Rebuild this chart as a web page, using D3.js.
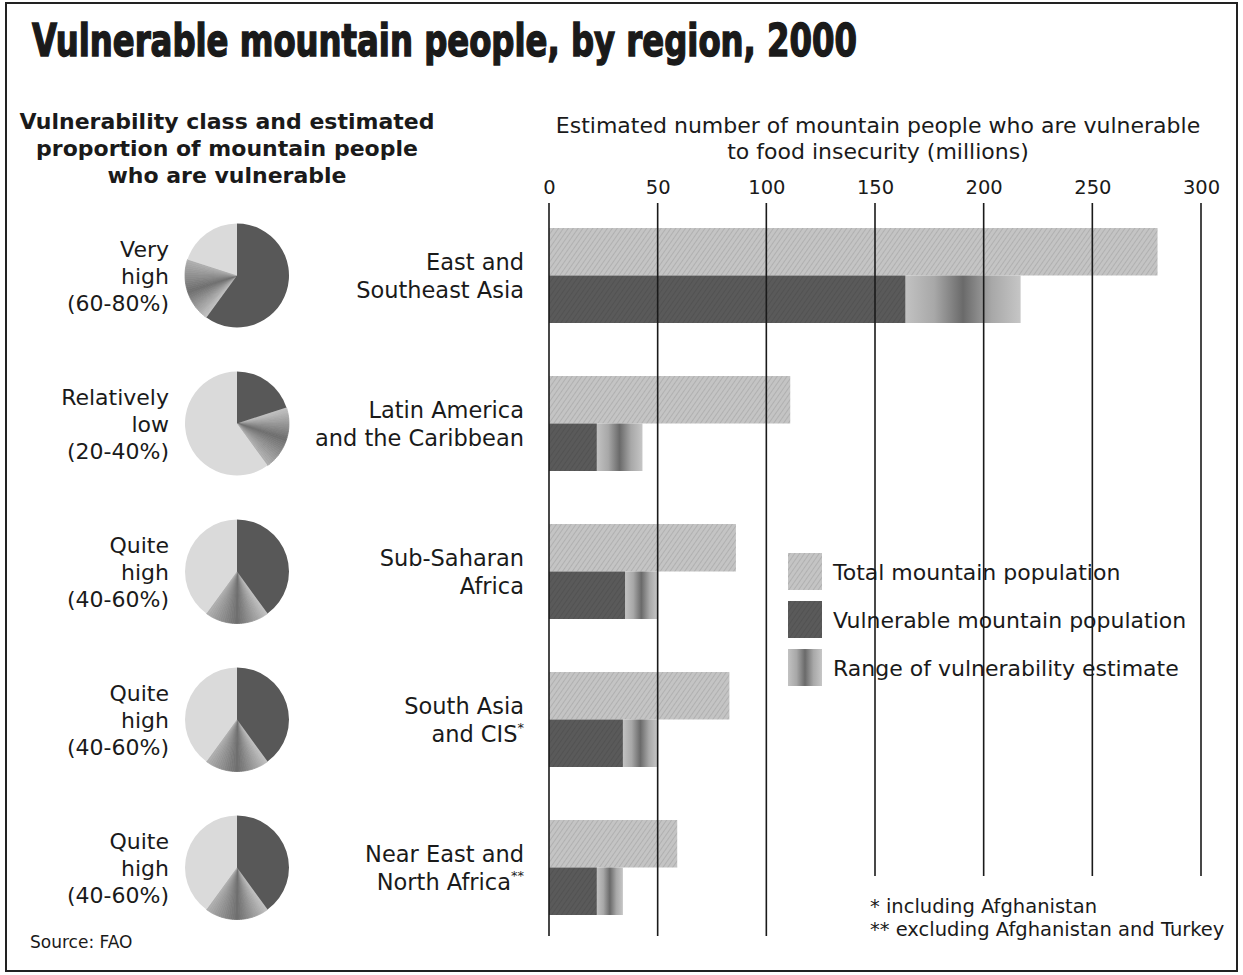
<!DOCTYPE html>
<html><head><meta charset="utf-8">
<script src="https://cdn.jsdelivr.net/npm/d3@7/dist/d3.min.js"></script>
<style>body{margin:0;background:#fff}svg{display:block}</style>
</head><body>
<svg id="c" width="1243" height="975"></svg>
<script>
// ---- data ----
const regions = ["East and Southeast Asia","Latin America and the Caribbean","Sub-Saharan Africa","South Asia and CIS*","Near East and North Africa**"];
const regionLines = [["East and","Southeast Asia"],["Latin America","and the Caribbean"],["Sub-Saharan","Africa"],["South Asia","and CIS*"],["Near East and","North Africa**"]];
const totalPop = [280, 111, 86, 83, 59];
const vulnLow = [164, 22, 35, 34, 22];
const vulnHigh = [217, 43, 50, 50, 34];
const classLines = [["Very","high","(60-80%)"],["Relatively","low","(20-40%)"],["Quite","high","(40-60%)"],["Quite","high","(40-60%)"],["Quite","high","(40-60%)"]];
const pieLow = [60, 20, 40, 40, 40];
const pieHigh = [80, 40, 60, 60, 60];
const ticks = [0, 50, 100, 150, 200, 250, 300];
const legendLabels = ["Total mountain population","Vulnerable mountain population","Range of vulnerability estimate"];

const svg = d3.select("#c");
const font = "'DejaVu Sans', sans-serif";
const ink = "#1a1a1a";

// defs
const defs = svg.append("defs");
const pat = defs.append("pattern").attr("id","hatch").attr("patternUnits","userSpaceOnUse").attr("width",4).attr("height",4).attr("patternTransform","rotate(35)");
pat.append("rect").attr("width",4).attr("height",4).attr("fill","#c4c4c4");
pat.append("line").attr("x1",0).attr("y1",0).attr("x2",0).attr("y2",4).attr("stroke","#a3a3a3").attr("stroke-width",1.2);
const patD = defs.append("pattern").attr("id","dark").attr("patternUnits","userSpaceOnUse").attr("width",4).attr("height",4).attr("patternTransform","rotate(35)");
patD.append("rect").attr("width",4).attr("height",4).attr("fill","#5a5a5a");
patD.append("line").attr("x1",0).attr("y1",0).attr("x2",0).attr("y2",4).attr("stroke","#4c4c4c").attr("stroke-width",1.2);
const grad = defs.append("linearGradient").attr("id","range");
[[0,"#c2c2c2"],[0.25,"#a8a8a8"],[0.5,"#6a6a6a"],[0.75,"#a8a8a8"],[1,"#c6c6c6"]].forEach(s=>grad.append("stop").attr("offset",s[0]).attr("stop-color",s[1]));

// frame
svg.append("rect").attr("x",6).attr("y",3).attr("width",1231).attr("height",968).attr("fill","none").attr("stroke","#222").attr("stroke-width",2);

// title
svg.append("text").attr("x",32).attr("y",56).attr("font-family","'Liberation Sans Narrow','DejaVu Sans Condensed',sans-serif")
  .attr("font-weight","bold").attr("font-size",44).attr("fill",ink).attr("stroke",ink).attr("stroke-width",1.4)
  .attr("textLength",825).attr("lengthAdjust","spacingAndGlyphs")
  .text("Vulnerable mountain people, by region, 2000");

// left header
const lh = ["Vulnerability class and estimated","proportion of mountain people","who are vulnerable"];
lh.forEach((t,i)=>svg.append("text").attr("x",227).attr("y",129+i*27).attr("text-anchor","middle")
  .attr("font-family",font).attr("font-weight","bold").attr("font-size",22).attr("fill",ink).text(t));

// right header
const rh = ["Estimated number of mountain people who are vulnerable","to food insecurity (millions)"];
rh.forEach((t,i)=>svg.append("text").attr("x",878).attr("y",133+i*26).attr("text-anchor","middle")
  .attr("font-family",font).attr("font-size",22).attr("fill",ink).text(t));

// scales
const x = d3.scaleLinear().domain([0,300]).range([549,1201]);
const y = d3.scaleBand().domain(regions).range([228,915]).paddingInner(53/148).paddingOuter(0);
const bh = y.bandwidth()/2;

// axis
const axis = d3.axisTop(x).tickValues(ticks).tickSize(0).tickPadding(0);
const ag = svg.append("g").attr("transform","translate(0,194)").call(axis);
ag.select(".domain").remove();
ag.selectAll("text").attr("font-family",font).attr("font-size",19.5).attr("fill",ink);

// bars
const g = svg.append("g");
regions.forEach((r,i)=>{
  const y0 = y(r);
  g.append("rect").attr("x",x(0)).attr("y",y0).attr("width",x(totalPop[i])-x(0)).attr("height",bh).attr("fill","url(#hatch)");
  g.append("rect").attr("x",x(vulnLow[i])).attr("y",y0+bh).attr("width",x(vulnHigh[i])-x(vulnLow[i])).attr("height",bh).attr("fill","url(#range)");
  g.append("rect").attr("x",x(0)).attr("y",y0+bh).attr("width",x(vulnLow[i])-x(0)).attr("height",bh).attr("fill","url(#dark)");
  regionLines[i].forEach((t,j)=>{
    const tx = svg.append("text").attr("x",524).attr("y",y0+bh+(j===0?-6:22)).attr("text-anchor","end")
      .attr("font-family",font).attr("font-size",22.5).attr("fill",ink);
    const m = t.match(/^(.*?)(\*+)$/);
    if(m){ tx.append("tspan").text(m[1]); tx.append("tspan").attr("font-size",13).attr("dy",-10).text(m[2]); }
    else tx.text(t);
  });
});

// legend
const lg = svg.append("g");
const lfills = ["url(#hatch)","url(#dark)","url(#range)"];
legendLabels.forEach((t,i)=>{
  lg.append("rect").attr("x",788).attr("y",553+i*48).attr("width",34).attr("height",37).attr("fill",lfills[i]);
  lg.append("text").attr("x",833).attr("y",580+i*48).attr("font-family",font).attr("font-size",22).attr("fill",ink).text(t);
});

// grid lines (on top); lines to the right of the footnotes stop above them
svg.append("g").selectAll("line").data(ticks).join("line")
  .attr("x1",d=>x(d)).attr("x2",d=>x(d)).attr("y1",203).attr("y2",d=>x(d)>860?876:936)
  .attr("stroke",ink).attr("stroke-width",1.6);

// pies
const R = 52;
const arc = d3.arc().innerRadius(0).outerRadius(R);
const shade = d3.scaleLinear().domain([0,0.5,1]).range(["#c4c4c4","#6e6e6e","#b0b0b0"]);
regions.forEach((r,i)=>{
  const cy = y(r)+y.bandwidth()/2, cx = 237;
  const pg = svg.append("g").attr("transform",`translate(${cx},${cy})`);
  const a0 = pieLow[i]/100*2*Math.PI, a1 = pieHigh[i]/100*2*Math.PI;
  const N = 30;
  for(let k=0;k<N;k++){
    const s = a0+(a1-a0)*k/N, e = a0+(a1-a0)*(k+1)/N;
    const c = shade((k+0.5)/N);
    pg.append("path").attr("d",arc({startAngle:s,endAngle:e})).attr("fill",c).attr("stroke",c).attr("stroke-width",0.8);
  }
  pg.append("path").attr("d",arc({startAngle:a1,endAngle:2*Math.PI})).attr("fill","#dadada");
  pg.append("path").attr("d",arc({startAngle:0,endAngle:a0})).attr("fill","#585858");
  classLines[i].forEach((t,j)=>svg.append("text").attr("x",169).attr("y",cy-19+j*27).attr("text-anchor","end")
    .attr("font-family",font).attr("font-size",22).attr("fill",ink).text(t));
});

// footnotes & source
svg.append("text").attr("x",870).attr("y",913).attr("font-family",font).attr("font-size",19.5).attr("fill",ink).text("* including Afghanistan");
svg.append("text").attr("x",870).attr("y",936).attr("font-family",font).attr("font-size",19.5).attr("fill",ink).text("** excluding Afghanistan and Turkey");
svg.append("text").attr("x",30).attr("y",948).attr("font-family",font).attr("font-size",17).attr("fill",ink).text("Source: FAO");
</script>
</body></html>
